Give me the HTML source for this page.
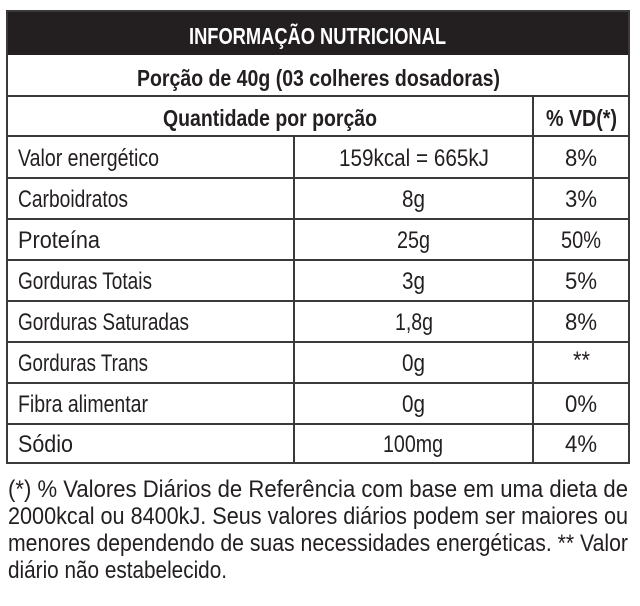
<!DOCTYPE html>
<html><head><meta charset="utf-8"><style>
html,body{margin:0;padding:0;background:#fff;}
svg{display:block;}
text{font-family:"Liberation Sans",sans-serif;fill:#231f20;}
</style></head><body>
<svg width="640" height="606" viewBox="0 0 640 606" xmlns="http://www.w3.org/2000/svg">
<rect x="6" y="11" width="624" height="44" fill="#231f20"/>
<g stroke="#3a3a3a" stroke-width="2" fill="none">
<rect x="7" y="11" width="622" height="452"/>
<line x1="7" y1="96" x2="629" y2="96"/>
<line x1="7" y1="136" x2="629" y2="136"/>
<line x1="7" y1="178" x2="629" y2="178"/>
<line x1="7" y1="219" x2="629" y2="219"/>
<line x1="7" y1="260" x2="629" y2="260"/>
<line x1="7" y1="301" x2="629" y2="301"/>
<line x1="7" y1="342" x2="629" y2="342"/>
<line x1="7" y1="383" x2="629" y2="383"/>
<line x1="7" y1="424" x2="629" y2="424"/>
<line x1="294" y1="136" x2="294" y2="463"/>
<line x1="533" y1="96" x2="533" y2="463"/>
</g>
<text x="189" y="44" font-size="23" font-weight="bold" style="fill:#fff" textLength="257" lengthAdjust="spacingAndGlyphs">INFORMAÇÃO NUTRICIONAL</text>
<text x="137" y="86" font-size="23" font-weight="bold" textLength="363" lengthAdjust="spacingAndGlyphs">Porção de 40g (03 colheres dosadoras)</text>
<text x="163" y="126" font-size="23" font-weight="bold" textLength="214" lengthAdjust="spacingAndGlyphs">Quantidade por porção</text>
<text x="546" y="126" font-size="23" font-weight="bold" textLength="71" lengthAdjust="spacingAndGlyphs">% VD(*)</text>
<g font-size="24">
<text x="18" y="166" textLength="141" lengthAdjust="spacingAndGlyphs">Valor energético</text>
<text x="339" y="166" textLength="150" lengthAdjust="spacingAndGlyphs">159kcal = 665kJ</text>
<text x="565" y="166" textLength="32" lengthAdjust="spacingAndGlyphs">8%</text>
<text x="18" y="207" textLength="110" lengthAdjust="spacingAndGlyphs">Carboidratos</text>
<text x="402" y="207" textLength="23" lengthAdjust="spacingAndGlyphs">8g</text>
<text x="565" y="207" textLength="32" lengthAdjust="spacingAndGlyphs">3%</text>
<text x="18" y="248" textLength="82" lengthAdjust="spacingAndGlyphs">Proteína</text>
<text x="397" y="248" textLength="33" lengthAdjust="spacingAndGlyphs">25g</text>
<text x="561" y="248" textLength="40" lengthAdjust="spacingAndGlyphs">50%</text>
<text x="18" y="289" textLength="134" lengthAdjust="spacingAndGlyphs">Gorduras Totais</text>
<text x="402" y="289" textLength="23" lengthAdjust="spacingAndGlyphs">3g</text>
<text x="565" y="289" textLength="32" lengthAdjust="spacingAndGlyphs">5%</text>
<text x="18" y="330" textLength="171" lengthAdjust="spacingAndGlyphs">Gorduras Saturadas</text>
<text x="395" y="330" textLength="38" lengthAdjust="spacingAndGlyphs">1,8g</text>
<text x="565" y="330" textLength="32" lengthAdjust="spacingAndGlyphs">8%</text>
<text x="18" y="371" textLength="130" lengthAdjust="spacingAndGlyphs">Gorduras Trans</text>
<text x="402" y="371" textLength="23" lengthAdjust="spacingAndGlyphs">0g</text>
<text x="573" y="368" textLength="17" lengthAdjust="spacingAndGlyphs">**</text>
<text x="18" y="412" textLength="130" lengthAdjust="spacingAndGlyphs">Fibra alimentar</text>
<text x="402" y="412" textLength="23" lengthAdjust="spacingAndGlyphs">0g</text>
<text x="565" y="412" textLength="32" lengthAdjust="spacingAndGlyphs">0%</text>
<text x="18" y="452" textLength="55" lengthAdjust="spacingAndGlyphs">Sódio</text>
<text x="383" y="452" textLength="60" lengthAdjust="spacingAndGlyphs">100mg</text>
<text x="565" y="452" textLength="32" lengthAdjust="spacingAndGlyphs">4%</text>
</g>
<g font-size="24">
<text x="8" y="497" textLength="620" lengthAdjust="spacingAndGlyphs">(*) % Valores Diários de Referência com base em uma dieta de</text>
<text x="8" y="524" textLength="620" lengthAdjust="spacingAndGlyphs">2000kcal ou 8400kJ. Seus valores diários podem ser maiores ou</text>
<text x="8" y="551" textLength="620" lengthAdjust="spacingAndGlyphs">menores dependendo de suas necessidades energéticas. ** Valor</text>
<text x="8" y="578" textLength="219" lengthAdjust="spacingAndGlyphs">diário não estabelecido.</text>
</g>
</svg>
</body></html>
